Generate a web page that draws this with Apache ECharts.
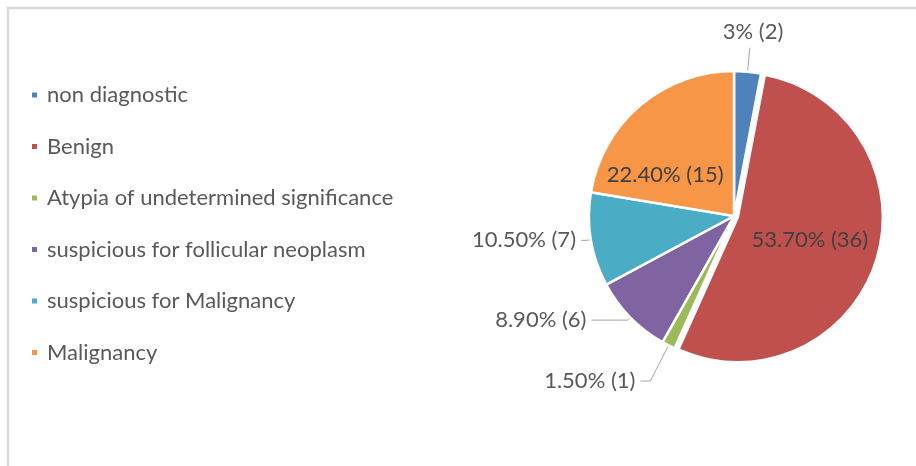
<!DOCTYPE html>
<html>
<head>
<meta charset="utf-8">
<style>
  html, body { margin: 0; padding: 0; background: #fff; }
  #chart { width: 916px; height: 466px; }
</style>
<script src="https://cdn.jsdelivr.net/npm/echarts@6/dist/echarts.min.js"></script>
</head>
<body>
<div id="chart"></div>
<script>
// categories, counts and the percent text shown on each slice
var categories = ['non diagnostic', 'Benign', 'Atypia of undetermined significance',
  'suspicious for follicular neoplasm', 'suspicious for Malignancy', 'Malignancy'];
var counts = [2, 36, 1, 6, 7, 15];
var pctText = ['3%', '53.70%', '1.50%', '8.90%', '10.50%', '22.40%'];
var colors = ['#4F81BD', '#C0504D', '#9BBB59', '#8064A2', '#4BACC6', '#F79646'];

var chart = echarts.init(document.getElementById('chart'));

// per-slice label tweaks (inside vs outside, leader line lengths)
var labelCfg = [
  { pos: 'outside', len: 24, len2: 0 },
  { pos: 'inside' },
  { pos: 'outside', len: 40, len2: 10 },
  { pos: 'outside', len: 4, len2: 36 },
  { pos: 'outside', len: 4, len2: 6 },
  { pos: 'inside' }
];

var pieData = categories.map(function (name, i) {
  var c = labelCfg[i];
  var item = {
    name: name,
    value: counts[i],
    itemStyle: { color: colors[i] },
    label: { position: c.pos, color: c.pos === 'inside' ? '#404040' : '#595959' }
  };
  if (c.pos === 'outside') {
    item.labelLine = { show: true, length: c.len, length2: c.len2 };
  } else {
    item.labelLine = { show: false };
  }
  if (name === 'Benign') item.selected = true;
  return item;
});

var option = {
  backgroundColor: '#fff',
  animation: false,
  graphic: [{
    type: 'rect',
    shape: { x: 8, y: 8, width: 1000, height: 1000 },
    style: { fill: 'none', stroke: '#d9d9d9', lineWidth: 2.5 },
    silent: true
  }],
  legend: {
    orient: 'vertical',
    left: 25,
    top: 79,
    icon: 'rect',
    itemWidth: 7,
    itemHeight: 7,
    itemGap: 29.5,
    selectedMode: false,
    data: categories,
    textStyle: {
      fontFamily: 'Lato',
      fontSize: 22,
      color: '#595959',
      padding: [0, 0, 0, 4]
    }
  },
  series: [{
    type: 'pie',
    center: [734, 216],
    radius: 145,
    startAngle: 90,
    clockwise: true,
    selectedMode: 'multiple',
    selectedOffset: 4,
    avoidLabelOverlap: false,
    itemStyle: { borderColor: '#fff', borderWidth: 2.5 },
    emphasis: { disabled: true },
    label: {
      show: true,
      fontFamily: 'Lato',
      fontSize: 22,
      formatter: function (p) {
        return pctText[p.dataIndex] + ' (' + p.value + ')';
      }
    },
    labelLine: {
      lineStyle: { color: '#a6a6a6', width: 1 }
    },
    labelLayout: function (p) {
      if (p.dataIndex === 0) return { dx: -32, dy: -16 };
      if (p.dataIndex === 5) return { dx: -20, dy: 16 };
      return {};
    },
    data: pieData
  }]
};

chart.setOption(option);
</script>
</body>
</html>
